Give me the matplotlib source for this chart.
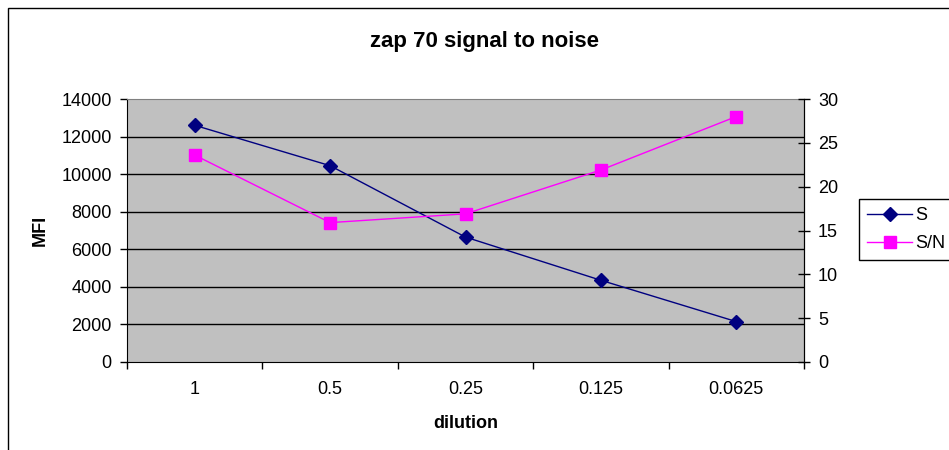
import matplotlib
matplotlib.use("Agg")
import matplotlib.pyplot as plt
from matplotlib.patches import Rectangle
from matplotlib.lines import Line2D

plt.rcParams["font.family"] = ["Liberation Sans", "DejaVu Sans"]

dilutions = ["1", "0.5", "0.25", "0.125", "0.0625"]
signal = [12600, 10450, 6650, 4350, 2150]
sn_ratio = [23.6, 15.9, 16.9, 21.9, 28.0]

W, H = 949, 450
FS = 13
fig = plt.figure(figsize=(W / 100, H / 100), dpi=100)

# chart border (runs off the right and bottom edge)
top = (H - 7.5) / H
fig.add_artist(Rectangle((8 / W, -0.1), 1.2, top + 0.1,
                         transform=fig.transFigure, fill=False,
                         edgecolor="black", linewidth=1))

ax = fig.add_axes([127 / W, (H - 362) / H, 677 / W, 263 / H])
ax.set_facecolor("#c0c0c0")
x = list(range(len(dilutions)))

ax.set_xlim(-0.5, len(dilutions) - 0.5)
ax.set_ylim(0, 14000)
ax.set_yticks(range(0, 14001, 2000))
for yv in range(2000, 14000, 2000):
    ax.axhline(yv, color="black", linewidth=1, zorder=1)

ax.plot(x, signal, color="#000080", linewidth=1, marker="D", markersize=7,
        markerfacecolor="#000080", markeredgecolor="#000080", zorder=3)

ax.set_xticks([i - 0.5 for i in range(len(dilutions) + 1)])
ax.set_xticklabels([])
ax.set_xticks(x, minor=True)
ax.set_xticklabels(dilutions, minor=True)
ax.tick_params(axis="x", which="major", direction="out", length=5, width=1)
ax.tick_params(axis="x", which="minor", length=0, pad=14, labelsize=FS)
ax.tick_params(axis="y", direction="out", length=5, width=1, labelsize=FS,
               pad=6)

for s in ["left", "bottom", "right"]:
    ax.spines[s].set_color("black")
ax.spines["top"].set_color("#808080")

ax.set_ylabel("MFI", fontsize=FS, fontweight="bold", labelpad=9)
ax.set_xlabel("dilution", fontsize=FS, fontweight="bold", labelpad=12)

ax2 = ax.twinx()
ax2.set_ylim(0, 30)
ax2.set_yticks(range(0, 31, 5))
ax2.tick_params(axis="y", direction="inout", length=8, width=1, labelsize=FS,
                pad=6)
ax2.plot(x, sn_ratio, color="#ff00ff", linewidth=1, marker="s", markersize=8,
         markerfacecolor="#ff00ff", markeredgecolor="#ff00ff", zorder=3)
for s in ["left", "bottom", "top"]:
    ax2.spines[s].set_visible(False)
ax2.spines["right"].set_color("black")

fig.text(484 / W, 1 - 42 / H, "zap 70 signal to noise", ha="center",
         va="center", fontsize=16, fontweight="bold")

handles = [
    Line2D([], [], color="#000080", linewidth=1, marker="D", markersize=7,
           markerfacecolor="#000080", markeredgecolor="#000080"),
    Line2D([], [], color="#ff00ff", linewidth=1, marker="s", markersize=8,
           markerfacecolor="#ff00ff", markeredgecolor="#ff00ff"),
]
leg = fig.legend(handles, ["S", "S/N"], loc="upper left",
                 bbox_to_anchor=(859 / W, 1 - 199 / H), fontsize=FS,
                 frameon=True, fancybox=False, edgecolor="black",
                 framealpha=1, handlelength=2.5, borderpad=0.45,
                 labelspacing=0.6, handletextpad=0.15, borderaxespad=0)
leg.get_frame().set_linewidth(1)

fig.savefig("out.png", dpi=100)
plt.close(fig)
